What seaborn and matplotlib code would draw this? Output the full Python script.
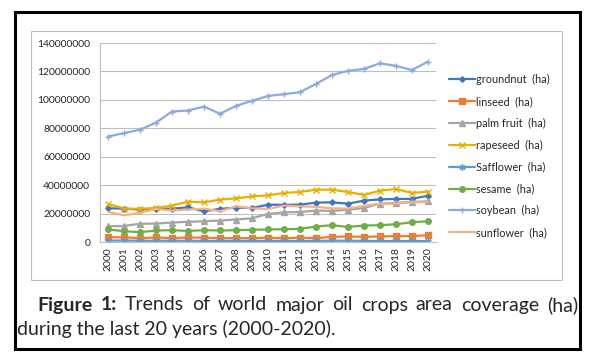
import numpy as np
import pandas as pd
import matplotlib
matplotlib.use('Agg')
import matplotlib.pyplot as plt
from matplotlib.patches import Rectangle
from matplotlib.ticker import FuncFormatter
import seaborn as sns

# dados (ha)
anos = list(range(2000, 2021))
groundnut = [23.7e6, 23.5e6, 22.8e6, 23.3e6, 23.5e6, 24.4e6, 21.6e6, 23.3e6, 24.2e6, 23.9e6, 26.3e6,
             26.1e6, 26.3e6, 27.7e6, 27.9e6, 27.0e6, 29.1e6, 30.0e6, 30.3e6, 30.3e6, 32.6e6]
linseed = [3.4e6, 3.2e6, 2.7e6, 3.2e6, 2.7e6, 3.2e6, 3.0e6, 2.7e6, 2.7e6, 2.7e6, 3.0e6,
           2.7e6, 3.0e6, 2.7e6, 3.6e6, 3.9e6, 3.6e6, 3.9e6, 4.1e6, 4.1e6, 4.8e6]
palm_fruit = [11.1e6, 11.3e6, 12.8e6, 13.0e6, 13.7e6, 14.2e6, 14.6e6, 15.1e6, 15.8e6, 16.7e6, 19.8e6,
              20.9e6, 21.1e6, 22.1e6, 21.9e6, 22.6e6, 24.0e6, 27.0e6, 27.5e6, 28.2e6, 28.6e6]
rapeseed = [26.8e6, 23.5e6, 23.3e6, 24.0e6, 25.6e6, 28.4e6, 27.9e6, 29.8e6, 30.7e6, 32.1e6, 32.8e6,
            34.5e6, 35.2e6, 36.8e6, 36.8e6, 35.2e6, 33.1e6, 36.1e6, 37.3e6, 34.5e6, 35.4e6]
safflower = [1.0e6, 1.0e6, 0.9e6, 0.9e6, 0.9e6, 0.9e6, 0.8e6, 0.8e6, 0.8e6, 0.8e6, 0.8e6,
             0.8e6, 0.8e6, 0.8e6, 0.9e6, 0.9e6, 0.8e6, 0.7e6, 0.7e6, 0.7e6, 0.7e6]
sesame = [8.8e6, 7.6e6, 6.9e6, 8.1e6, 8.3e6, 7.8e6, 8.3e6, 8.1e6, 8.3e6, 8.6e6, 8.8e6,
          9.0e6, 9.2e6, 10.9e6, 11.8e6, 10.6e6, 11.6e6, 11.8e6, 12.5e6, 13.9e6, 14.6e6]
soybean = [74.2e6, 76.6e6, 79.0e6, 84.0e6, 91.8e6, 92.5e6, 95.3e6, 90.2e6, 95.8e6, 99.3e6, 102.8e6,
           104.0e6, 105.4e6, 111.2e6, 117.5e6, 120.4e6, 121.8e6, 125.7e6, 123.9e6, 121.0e6, 126.9e6]
sunflower = [21.2e6, 18.8e6, 20.5e6, 23.3e6, 22.1e6, 22.8e6, 23.5e6, 21.6e6, 25.1e6, 23.7e6, 23.3e6,
             25.6e6, 25.1e6, 24.7e6, 23.7e6, 23.5e6, 25.4e6, 27.0e6, 27.0e6, 27.9e6, 28.2e6]

series = {
    'groundnut  (ha)': groundnut,
    'linseed  (ha)': linseed,
    'palm fruit  (ha)': palm_fruit,
    'rapeseed  (ha)': rapeseed,
    'Safflower  (ha)': safflower,
    'sesame  (ha)': sesame,
    'soybean  (ha)': soybean,
    'sunflower  (ha)': sunflower,
}

# estilo de cada série (cor, marcador, tamanho)
estilos = {
    'groundnut  (ha)': ('#4472C4', 'D', 2.8),
    'linseed  (ha)': ('#ED7D31', 's', 3.8),
    'palm fruit  (ha)': ('#A5A5A5', '^', 4),
    'rapeseed  (ha)': ('#E8B000', 'x', 4),
    'Safflower  (ha)': ('#5B9BD5', (6, 2, 0), 4.5),
    'sesame  (ha)': ('#70AD47', 'o', 4),
    'soybean  (ha)': ('#8EA9DB', '+', 5),
    'sunflower  (ha)': ('#F4B183', None, 0),
}

df = pd.DataFrame(series)
df['ano'] = anos

sns.set_style('white')
plt.rcParams['font.family'] = ['Lato', 'DejaVu Sans']

fig = plt.figure(figsize=(5.95, 3.61), dpi=100)
ax = fig.add_axes([100/595, 1-242/361, 336/595, 199/361])

for nome in series:
    cor, marc, tam = estilos[nome]
    sns.lineplot(data=df, x='ano', y=nome, ax=ax, color=cor, marker=marc, markersize=tam,
                 markeredgecolor=cor, markeredgewidth=1.0, linewidth=1.6, label=nome, legend=False)

ax.set_xlim(1999.5, 2020.5)
ax.set_ylim(0, 140000000)
ax.set_yticks(np.arange(0, 140000001, 20000000))
ax.yaxis.set_major_formatter(FuncFormatter(lambda v, p: f'{v:.0f}'))
ax.set_xticks(anos)
ax.set_xticklabels([str(a) for a in anos], rotation=90)
ax.set_xticks(np.arange(1999.5, 2021, 1), minor=True)
ax.tick_params(axis='x', which='major', length=0, labelsize=7.5, pad=4)
ax.tick_params(axis='x', which='minor', length=4, color='#BFBFBF', width=0.8)
ax.tick_params(axis='y', length=4, color='#BFBFBF', width=0.8, labelsize=7.5, pad=3)
ax.set_xlabel('')
ax.set_ylabel('')
ax.grid(axis='y', color='#BFBFBF', linewidth=0.8)
ax.set_axisbelow(True)
for lado in ['top', 'right']:
    ax.spines[lado].set_visible(False)
for lado in ['left', 'bottom']:
    ax.spines[lado].set_color('#BFBFBF')
    ax.spines[lado].set_linewidth(0.8)

fig.legend(loc='upper left', bbox_to_anchor=(449/595, 1-74/361), frameon=False,
           fontsize=7.8, handlelength=2.4, handletextpad=0.1, labelspacing=1.0,
           borderpad=0, borderaxespad=0)

# molduras
fig.patches.append(Rectangle((31/595, 1-280/361), 531/595, 249/361, transform=fig.transFigure,
                             fill=False, edgecolor='#BFBFBF', linewidth=0.8))
fig.patches.append(Rectangle((15/595, 1-349/361), 565/595, 337/361, transform=fig.transFigure,
                             fill=False, edgecolor='black', linewidth=2.2))

# legenda da figura, primeira linha justificada
tam_fonte = 14
palavras = [('Figure', 'bold'), ('1:', 'bold'), ('Trends', 'normal'), ('of', 'normal'),
            ('world', 'normal'), ('major', 'normal'), ('oil', 'normal'), ('crops', 'normal'),
            ('area', 'normal'), ('coverage', 'normal'), ('(ha)', 'normal')]
render = fig.canvas.get_renderer()
textos = [fig.text(0, 1-305/361, p, fontsize=tam_fonte, fontweight=w, va='center', ha='left')
          for p, w in palavras]
larguras = [t.get_window_extent(render).width for t in textos]
x_ini, x_fim = 37, 578
espaco = (x_fim - x_ini - sum(larguras)) / (len(textos) - 1)
x = x_ini
for t, lg in zip(textos, larguras):
    t.set_x(x / 595)
    x += lg + espaco
fig.text(17/595, 1-329/361, 'during the last 20 years (2000-2020).', fontsize=tam_fonte,
         va='center', ha='left')

fig.savefig('out.png', dpi=100)
